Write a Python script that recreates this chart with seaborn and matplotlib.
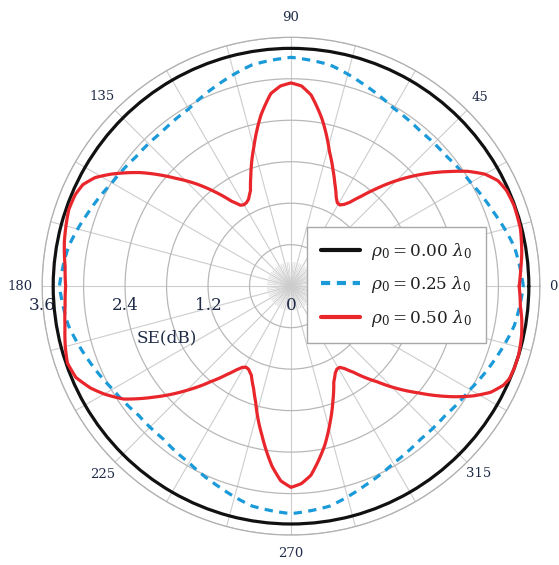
import numpy as np
import pandas as pd
import matplotlib
matplotlib.use("Agg")
import matplotlib.pyplot as plt
import seaborn as sns
from matplotlib.lines import Line2D

# ---------------- data ----------------
black_angles = [0, 30, 60, 90, 120, 150, 180, 210, 240, 270, 300, 330, 360]
black_r = [3.44, 3.44, 3.44, 3.44, 3.44, 3.44, 3.44, 3.44, 3.44, 3.44, 3.44, 3.44, 3.44]

blue_angles = [0, 10, 20, 30, 40, 50, 60, 70, 80, 90, 100, 110, 120, 130, 140, 150,
               160, 170, 180, 190, 200, 210, 220, 230, 240, 250, 260, 270, 280, 290,
               300, 310, 320, 330, 340, 350, 360]
blue_r = [3.36, 3.28, 3.12, 3.00, 2.93, 2.92, 2.97, 3.10, 3.25, 3.31, 3.25, 3.10,
          2.96, 2.91, 2.92, 2.99, 3.12, 3.27, 3.35, 3.27, 3.12, 2.98, 2.89, 2.88,
          2.95, 3.08, 3.23, 3.29, 3.23, 3.08, 2.96, 2.90, 2.91, 2.99, 3.13, 3.28, 3.36]

red_angles = [0, 4, 8, 14, 20, 24, 27, 30, 33, 36, 40, 45, 49, 52, 55, 57, 59, 61, 63,
              67, 70, 74, 79.5, 84, 87, 90, 93, 96, 100, 105, 110, 113, 116, 118, 120,
              122, 125, 129, 133, 137, 143, 148, 151, 154, 157, 161, 169, 175, 180,
              185, 190, 195, 199, 203, 207, 210, 214, 219, 225, 230, 234, 237, 239,
              241, 243, 246, 250, 253, 259, 264, 267, 270, 273, 276, 282, 286, 290,
              294, 297, 299, 301, 303, 306, 312, 320, 326, 329, 332, 335, 337, 340,
              343, 348, 352, 355, 360]
red_r = [3.30, 3.33, 3.37, 3.42, 3.43, 3.41, 3.36, 3.24, 3.05, 2.82, 2.53, 2.16,
         1.86, 1.65, 1.48, 1.41, 1.37, 1.38, 1.44, 1.62, 1.78, 2.02, 2.46, 2.78,
         2.90, 2.94, 2.90, 2.80, 2.51, 2.08, 1.70, 1.50, 1.40, 1.37, 1.36, 1.38,
         1.50, 1.76, 2.03, 2.29, 2.73, 3.06, 3.24, 3.35, 3.39, 3.40, 3.34, 3.28,
         3.26, 3.28, 3.32, 3.38, 3.42, 3.38, 3.25, 3.12, 2.92, 2.55, 2.13, 1.80,
         1.58, 1.44, 1.37, 1.34, 1.35, 1.41, 1.58, 1.75, 2.20, 2.62, 2.82, 2.91,
         2.86, 2.75, 2.35, 2.05, 1.77, 1.52, 1.41, 1.37, 1.37, 1.42, 1.54, 1.86,
         2.40, 2.86, 3.08, 3.27, 3.39, 3.43, 3.44, 3.44, 3.41, 3.37, 3.33, 3.30]

series_labels = [r"$\rho_0 = 0.00\ \lambda_0$",
                 r"$\rho_0 = 0.25\ \lambda_0$",
                 r"$\rho_0 = 0.50\ \lambda_0$"]
angle_tick_values = [0, 45, 90, 135, 180, 225, 270, 315]
angle_tick_labels = ["0", "45", "90", "135", "180", "225", "270", "315"]
radial_label_values = [0, 1.2, 2.4, 3.6]
radial_label_texts = ["0", "1.2", "2.4", "3.6"]
radial_axis_title = "SE(dB)"

# ---------------- style ----------------
sns.set_theme(style="white")
plt.rcParams["font.family"] = ["DejaVu Serif"]
plt.rcParams["mathtext.fontset"] = "dejavuserif"

BLACK = "#111111"
BLUE = "#1b9ad9"
RED = "#e8262b"
TXT = "#1f2b46"

fig = plt.figure(figsize=(5.59, 5.65), dpi=100)
ax = fig.add_axes([0.0751, 0.053, 0.891, 0.881], projection="polar")

def draw(angles, radii, color, ls, lw):
    df = pd.DataFrame({"theta": np.deg2rad(angles), "r": radii})
    sns.lineplot(data=df, x="theta", y="r", sort=False, estimator=None, ax=ax,
                 color=color, linestyle=ls, linewidth=lw, zorder=3)

draw(black_angles, black_r, BLACK, "-", 2.3)
draw(blue_angles, blue_r, BLUE, (0, (2.6, 2.0)), 2.3)
draw(red_angles, red_r, RED, "-", 2.3)

# let the polar transform draw the segments as smooth arcs / spirals
for ln in ax.lines:
    ln.get_path()._interpolation_steps = 40

ax.set_xlabel("")
ax.set_ylabel("")
ax.set_ylim(0, 3.6)
ax.set_yticks(np.arange(0.6, 3.61, 0.6))
ax.set_yticklabels([])
xt = np.arange(0, 360, 15)
ax.set_xticks(np.deg2rad(xt))
ax.set_xticklabels([])
ax.grid(True)
ax.xaxis.grid(True, color="#cdcdcd", linewidth=0.8)
ax.yaxis.grid(True, color="#b8b8b8", linewidth=0.9)
ax.spines["polar"].set_color("#b0b0b0")
ax.spines["polar"].set_linewidth(0.9)
ax.set_axisbelow(True)

# short extra spokes gathering at the centre
minor = [a for a in range(0, 360, 5) if a % 15 != 0]
ax.vlines(np.deg2rad(minor), 0, 0.35, color="#d5d5d5", linewidth=0.6, zorder=0.5)

# angle labels outside the ring (offsets in pixels from the ring)
label_offsets_px = [13, 17.6, 20, 19, 22, 18, 18, 16]
for av, at, off in zip(angle_tick_values, angle_tick_labels, label_offsets_px):
    th = np.deg2rad(av)
    d = off * 0.72
    ax.annotate(at, xy=(th, 3.6), xytext=(d * np.cos(th), d * np.sin(th)),
                textcoords="offset points", ha="center", va="center",
                fontsize=9.5, color=TXT, annotation_clip=False)

for rv, rt in zip(radial_label_values, radial_label_texts):
    ax.annotate(rt, xy=(np.pi, rv), xytext=(0, -14), textcoords="offset points",
                ha="center", va="center", fontsize=12.2, color=TXT, zorder=1.5)
ax.annotate(radial_axis_title, xy=(np.pi, 1.8), xytext=(0, -37), textcoords="offset points",
            ha="center", va="center", fontsize=12.2, color=TXT, zorder=1.5)

handles = [Line2D([], [], color=BLACK, lw=3.0),
           Line2D([], [], color=BLUE, lw=3.0, linestyle=(0, (2.2, 1.6))),
           Line2D([], [], color=RED, lw=3.0)]
leg = ax.legend(handles, series_labels, loc="upper left",
                bbox_to_anchor=(307 / 559, 1 - 227 / 565), bbox_transform=fig.transFigure,
                borderaxespad=0, frameon=True, fancybox=False, framealpha=1,
                edgecolor="#a8a8a8", fontsize=12.2, handlelength=2.3,
                labelspacing=0.75, borderpad=0.8, handletextpad=0.7)
leg.get_frame().set_linewidth(1.0)
for t in leg.get_texts():
    t.set_color("#222222")
leg.set_zorder(10)

fig.savefig("out.png", dpi=100)
